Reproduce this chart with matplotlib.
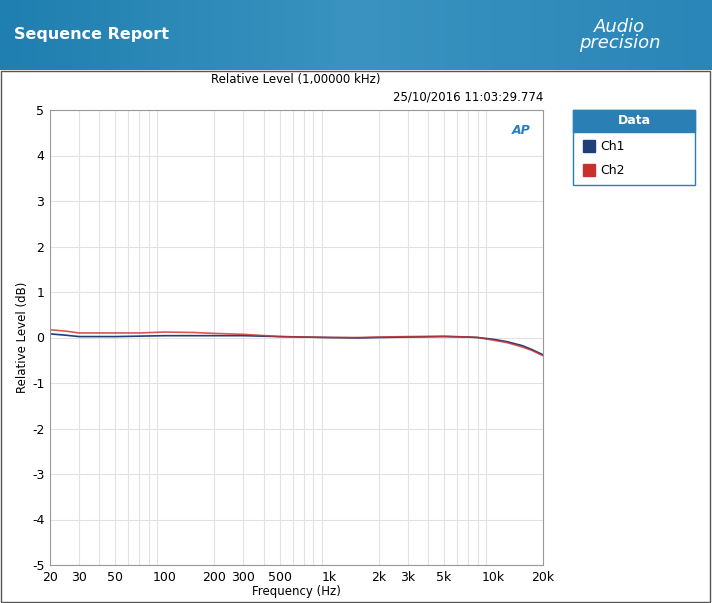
import matplotlib
matplotlib.use("Agg")
import matplotlib.pyplot as plt
import numpy as np
from matplotlib.patches import Rectangle
from matplotlib.colors import LinearSegmentedColormap
plt.rcParams['axes.unicode_minus'] = False

freq = [20, 25, 30, 40, 50, 70, 100, 150, 200, 300, 500, 700, 1000, 1500, 2000, 3000, 5000, 7000, 8000, 10000, 12000, 15000, 17000, 20000]
ch1 = [0.08, 0.05, 0.02, 0.02, 0.02, 0.03, 0.04, 0.04, 0.04, 0.04, 0.02, 0.01, 0.0, -0.01, 0.0, 0.01, 0.02, 0.01, 0.0, -0.04, -0.09, -0.18, -0.26, -0.38]
ch2 = [0.17, 0.14, 0.10, 0.10, 0.10, 0.10, 0.12, 0.11, 0.09, 0.07, 0.02, 0.01, 0.0, 0.0, 0.01, 0.02, 0.03, 0.01, 0.0, -0.06, -0.11, -0.21, -0.28, -0.40]
xticks = [20, 30, 50, 100, 200, 300, 500, 1000, 2000, 3000, 5000, 10000, 20000]
xlabels = ["20", "30", "50", "100", "200", "300", "500", "1k", "2k", "3k", "5k", "10k", "20k"]

W, H = 712, 603
fig = plt.figure(figsize=(W/100, H/100), dpi=100)
fig.patch.set_facecolor("white")

hax = fig.add_axes([0, 1-70/H, 1, 70/H])
grad = np.linspace(0, 1, 256).reshape(1, -1)
cm = LinearSegmentedColormap.from_list("h", ["#1f7fb0", "#3a93c0", "#2a86b8"])
hax.imshow(np.vstack([grad]*2), aspect="auto", cmap=cm, extent=[0, 1, 0, 1])
hax.set_axis_off()
hax.text(0.02, 0.5, "Sequence Report", color="white", fontsize=11.5, fontweight="bold", va="center")
hax.text(0.87, 0.62, "Audio", color="white", fontsize=13, style="italic", ha="center", va="center")
hax.text(0.87, 0.38, "precision", color="white", fontsize=13, style="italic", ha="center", va="center")

fig.patches.append(Rectangle((1/W, 1/H), 1-3/W, 1-72/H, transform=fig.transFigure, fill=False, ec="#555555", lw=1))

ax = fig.add_axes([50/W, 1-565/H, 493/W, 455/H])
ax.semilogx(freq, ch1, color="#1f3f7a", lw=1.2, label="Ch1")
ax.semilogx(freq, ch2, color="#c8302c", lw=1.2, alpha=0.8, label="Ch2")
ax.set_xlim(20, 20000)
ax.set_ylim(-5, 5)
ax.set_yticks(range(-5, 6))
ax.set_xticks(xticks)
ax.set_xticklabels(xlabels)
ax.minorticks_off()
minor = [f*m for f in [10, 100, 1000, 10000] for m in range(2, 10) if 20 <= f*m <= 20000]
for m in minor:
    ax.axvline(m, color="#e2e2e2", lw=0.8, zorder=0)
ax.grid(True, axis="y", color="#e2e2e2", lw=0.8)
for s in ax.spines.values():
    s.set_color("#999999")
ax.tick_params(length=0, labelsize=9, pad=4)
ax.set_xlabel("Frequency (Hz)", fontsize=8.5, labelpad=1)
ax.set_ylabel("Relative Level (dB)", fontsize=8.5, labelpad=2)
fig.text(296/W, 1-80/H, "Relative Level (1,00000 kHz)", fontsize=8.5, ha="center", va="center")
fig.text(543/W, 1-97/H, "25/10/2016 11:03:29.774", fontsize=8.5, ha="right", va="center")
ax.text(0.955, 0.955, "AP", transform=ax.transAxes, color="#2a7fc0", fontsize=9, style="italic", fontweight="bold", ha="center", va="center")

lx, ly, lw_, lh = 573, 110, 122, 75
fig.patches.append(Rectangle((lx/W, 1-(ly+lh)/H), lw_/W, lh/H, transform=fig.transFigure, fc="white", ec="#2a7fb5", lw=1))
fig.patches.append(Rectangle((lx/W, 1-(ly+22)/H), lw_/W, 22/H, transform=fig.transFigure, fc="#2a7fb5", ec="#2a7fb5", lw=1))
fig.text((lx+lw_/2)/W, 1-(ly+11)/H, "Data", color="white", fontsize=9, fontweight="bold", ha="center", va="center")
for i, (name, c) in enumerate([("Ch1", "#1f3f7a"), ("Ch2", "#c8302c")]):
    yy = 146 + i*24
    fig.patches.append(Rectangle((583/W, 1-(yy+6)/H), 12/W, 12/H, transform=fig.transFigure, fc=c, ec=c))
    fig.text(600/W, 1-yy/H, name, fontsize=9, va="center")

fig.savefig("out.png", dpi=100)
